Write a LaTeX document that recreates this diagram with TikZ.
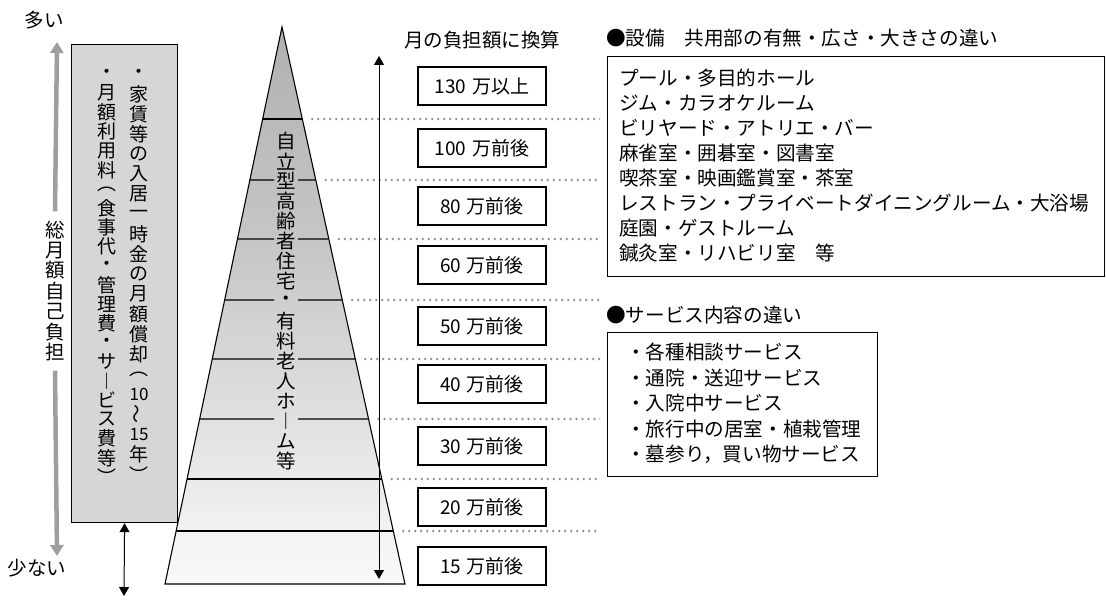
\documentclass[tikz,border=0pt]{standalone}
\usepackage{fontspec}
\usetikzlibrary{arrows.meta,calc}
\setmainfont{Noto Sans CJK JP}
\ExplSyntaxOn
\NewDocumentCommand\vstack{O{20pt}m}{
  \vbox{\offinterlineskip
    \tl_map_inline:nn {#2} {\hbox~to~#1{\hss\vbox~to~#1{\vss\hbox{##1}\vss}\hss}}
  }
}
\ExplSyntaxOff
\newcommand\dg[1]{{\fontsize{17}{17}\selectfont #1}}
\newcommand\vwave{\rotatebox{90}{～}}
\pgfdeclareverticalshading{trishade}{100bp}{color(0bp)=(white); color(22bp)=(white); color(55bp)=(black!22); color(100bp)=(black!42)}
\begin{document}
\begin{tikzpicture}[x=1pt,y=-1pt,
  vtext/.style={font=\fontsize{19}{20}\selectfont, inner sep=0pt},
  pbox/.style={draw, line width=1.3pt, minimum width=128pt, minimum height=38pt, inner sep=0pt, font=\fontsize{19}{19}\selectfont},
  garrow/.style={draw=black!38, line width=4.5pt, -{Triangle[length=11pt,width=13pt]}},
  barrow/.style={draw=black, line width=1pt, {Triangle[length=9pt,width=10pt]}-{Triangle[length=9pt,width=10pt]}},
  dotline/.style={draw=black!45, line width=2.2pt, dash pattern=on 1.8pt off 4.2pt},
  txt/.style={inner sep=0pt, font=\fontsize{19.5}{20}\selectfont},
  lines/.style={inner sep=0pt, align=left, font=\fontsize{19.6}{25}\selectfont}
]
\useasboundingbox (0,0) rectangle (1106,601);

% left scale
\node[txt] (many) at (44,20) {多い};
\node[txt] (few) at (37,568) {少ない};
\node[vtext, inner ysep=8pt, font=\fontsize{19.5}{20}\selectfont] (tot) at (55,291) {\vstack[20.4pt]{総月額自己負担}};
\coordinate (gtop) at (57,42);
\coordinate (gbot) at (57,556);
\draw[garrow] (tot.north) -- (gtop);
\draw[garrow] (tot.south) -- (gbot);

% left box
\node[draw, line width=1.2pt, fill=black!16, minimum width=106pt, minimum height=478pt, anchor=north west, inner sep=0pt] (lbox) at (71,44) {};
\node[vtext, anchor=north] (c1) at (139,64) {\vstack[20pt]{・家賃等の入居一時金の月額償却︵{\dg{10}}{\vwave}{\dg{15}}年︶}};
\node[vtext, anchor=north] (c2) at (107,64) {\vstack[19.2pt]{・月額利用料︵食事代・管理費・サ︱ビス費等︶}};
\coordinate (dbot) at (124,596);
\draw[barrow] (lbox.south) -- (dbot);

% pyramid
\coordinate (apex) at (282,27);
\coordinate (bl) at (165,584);
\coordinate (br) at (405,584);
\shade[shading=trishade] (apex) -- (br) -- (bl) -- cycle;
\draw[line width=1.1pt] (apex) -- (br) -- (bl) -- cycle;
\foreach \yy in {119,479,531} {
  \pgfmathsetmacro\tt{(\yy-27)/557}
  \draw[line width=1.1pt] ($(apex)!\tt!(bl)$) -- ($(apex)!\tt!(br)$);
}
\foreach \yy in {180,239,300,359,419} {
  \pgfmathsetmacro\tt{(\yy-27)/557}
  \draw[line width=1.1pt] ($(apex)!\tt!(bl)$) -- (274,\yy);
  \draw[line width=1.1pt] (298,\yy) -- ($(apex)!\tt!(br)$);
}
\foreach \yy in {119,180,239,300,359,419,479,531} {
  \pgfmathsetmacro\tt{(\yy-27)/557}
  \draw[dotline] ($(apex)!\tt!(br)+(9,0)$) -- (600,\yy);
}
\node[vtext, anchor=north, font=\fontsize{19.5}{20}\selectfont] (ptext) at (286,131) {\vstack{自立型高齢者住宅・有料老人ホ︱ム等}};

% scale arrow
\coordinate (vtop) at (379,56);
\coordinate (vbot) at (379,579);
\draw[barrow] (vtop) -- (vbot);

% amount boxes
\node[txt] (head) at (482,40) {月の負担額に換算};
\node[pbox] (b1) at (482,86) {130\hspace{0.3em}万以上};
\node[pbox] (b2) at (482,148) {100\hspace{0.3em}万前後};
\node[pbox] (b3) at (482,206) {80\hspace{0.3em}万前後};
\node[pbox] (b4) at (482,265) {60\hspace{0.3em}万前後};
\node[pbox] (b5) at (482,326) {50\hspace{0.3em}万前後};
\node[pbox] (b6) at (482,384) {40\hspace{0.3em}万前後};
\node[pbox] (b7) at (482,446) {30\hspace{0.3em}万前後};
\node[pbox] (b8) at (482,507) {20\hspace{0.3em}万前後};
\node[pbox] (b9) at (482,566) {15\hspace{0.3em}万前後};

% facilities
\node[txt, anchor=west, font=\fontsize{19.6}{20}\selectfont] (fh) at (606,38) {●設備　共用部の有無・広さ・大きさの違い};
\node[draw, line width=1.2pt, minimum width=497pt, minimum height=220pt, anchor=north west, inner sep=0pt] (fbox) at (607,56) {};
\node[lines, anchor=north west] (fl) at (619,69) {プール・多目的ホール\\ジム・カラオケルーム\\ビリヤード・アトリエ・バー\\麻雀室・囲碁室・図書室\\喫茶室・映画鑑賞室・茶室\\レストラン・プライベートダイニングルーム・大浴場\\庭園・ゲストルーム\\鍼灸室・リハビリ室　等};

% services
\node[txt, anchor=west, font=\fontsize{19.6}{20}\selectfont] (sh) at (606,315) {●サービス内容の違い};
\node[draw, line width=1.2pt, minimum width=270pt, minimum height=144pt, anchor=north west, inner sep=0pt] (sbox) at (607,332) {};
\node[lines, anchor=north west, font=\fontsize{19.6}{25.5}\selectfont] (sl) at (626,343) {・各種相談サービス\\・通院・送迎サービス\\・入院中サービス\\・旅行中の居室・植栽管理\\・墓参り，買い物サービス};
\end{tikzpicture}
\end{document}
